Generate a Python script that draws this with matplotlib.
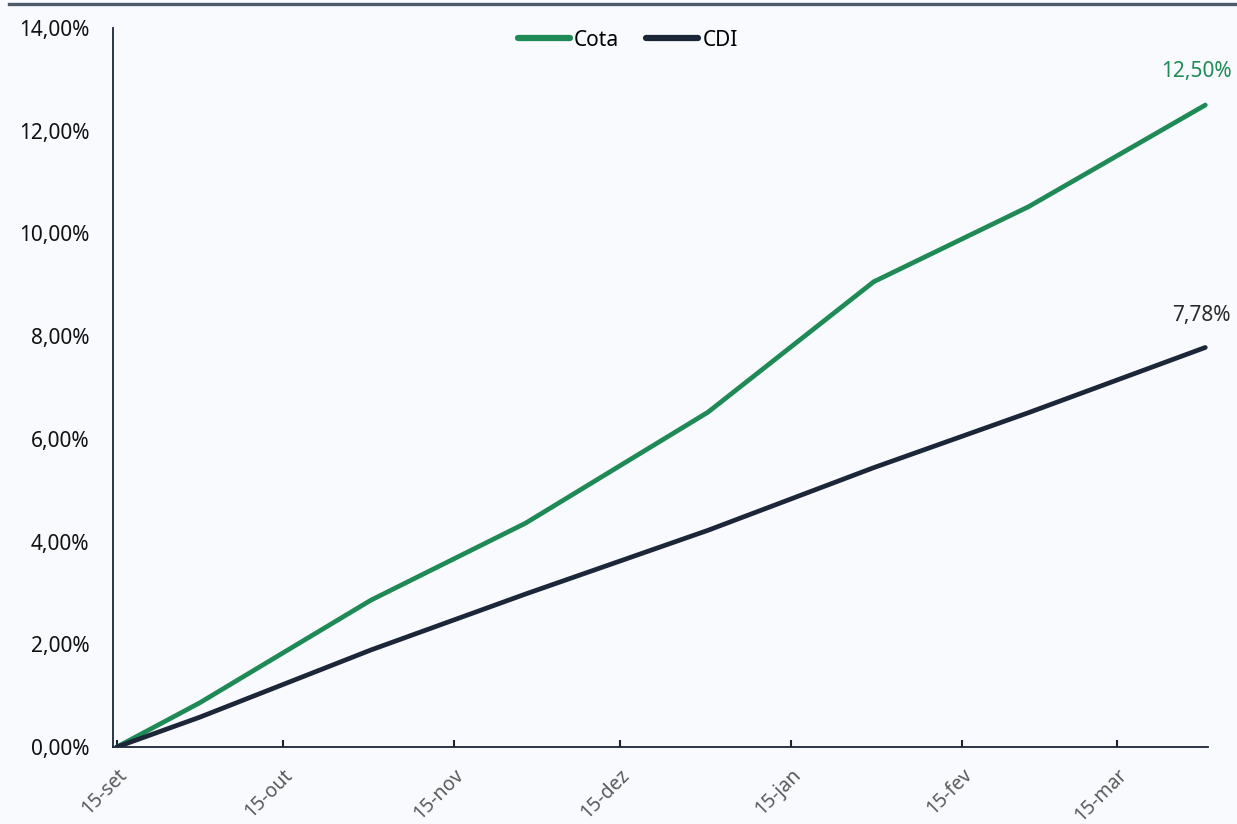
import matplotlib
matplotlib.use("Agg")
import matplotlib.pyplot as plt
from matplotlib.lines import Line2D
from matplotlib.ticker import FuncFormatter
import pandas as pd

plt.rcParams['font.family'] = ['Noto Sans', 'DejaVu Sans']

dates = ["2025-09-15", "2025-09-30", "2025-10-31", "2025-11-28", "2025-12-31",
         "2026-01-30", "2026-02-27", "2026-03-31"]
cota = [0.00, 0.86, 2.86, 4.36, 6.52, 9.06, 10.52, 12.50]
cdi = [0.00, 0.58, 1.89, 2.98, 4.22, 5.44, 6.51, 7.78]
tick_dates = ["2025-09-15", "2025-10-15", "2025-11-15", "2025-12-15",
              "2026-01-15", "2026-02-15", "2026-03-15"]
month_abbr = ["jan", "fev", "mar", "abr", "mai", "jun", "jul", "ago", "set", "out", "nov", "dez"]
y_ticks = [0, 2, 4, 6, 8, 10, 12, 14]

GREEN = "#1f8a56"
NAVY = "#1b2638"
BG = "#f8fafd"

x = pd.to_datetime(dates)
xt = pd.to_datetime(tick_dates)

fig = plt.figure(figsize=(12.37, 8.24), dpi=100, facecolor=BG)
ax = fig.add_axes([0.0914, 0.0934, 0.8852, 0.8726], facecolor=BG)

ax.plot(x, cota, color=GREEN, lw=3.4, solid_capstyle='round', solid_joinstyle='round', label="Cota", zorder=3)
ax.plot(x, cdi, color=NAVY, lw=3.4, solid_capstyle='round', solid_joinstyle='round', label="CDI", zorder=3)

ax.set_ylim(0, 14)
ax.set_xlim(x[0] - pd.Timedelta(hours=16), x[-1] + pd.Timedelta(hours=12))
ax.set_yticks(y_ticks)
ax.yaxis.set_major_formatter(FuncFormatter(lambda v, p: f"{v:.2f}".replace(".", ",") + "%"))
ax.set_xticks(xt)
ax.set_xticklabels([f"{d.day}-{month_abbr[d.month - 1]}" for d in xt], rotation=45,
                   ha='right', va='top', rotation_mode='anchor')

for s in ['top', 'right']:
    ax.spines[s].set_visible(False)
for s in ['left', 'bottom']:
    ax.spines[s].set_color(NAVY)
    ax.spines[s].set_linewidth(1.3)

ax.tick_params(axis='y', length=0, pad=17, labelsize=15, labelcolor="#111111")
ax.tick_params(axis='x', direction='in', length=5, width=1.5, color=NAVY, pad=13,
               labelsize=14, labelcolor="#5a5a5a")

ax.annotate(f"{cota[-1]:.2f}".replace(".", ",") + "%", (x[-1], cota[-1]), xytext=(-6, 24),
            textcoords='offset points', ha='center', va='center', color=GREEN, fontsize=15)
ax.annotate(f"{cdi[-1]:.2f}".replace(".", ",") + "%", (x[-1], cdi[-1]), xytext=(-3, 23),
            textcoords='offset points', ha='center', va='center', color="#2a2a2a", fontsize=15)

leg = ax.legend(loc='center', bbox_to_anchor=(0.470, 0.983), ncol=2, frameon=False,
                fontsize=15, handlelength=2.5, handletextpad=0.2, columnspacing=1.3)
for h in leg.legend_handles:
    h.set_linewidth(4.5)
    h.set_solid_capstyle('round')

fig.add_artist(Line2D([0.007, 1.0], [0.9955, 0.9955], transform=fig.transFigure,
                      color="#4d5b6c", lw=2.4))

fig.savefig("out.png", dpi=100, facecolor=BG)
